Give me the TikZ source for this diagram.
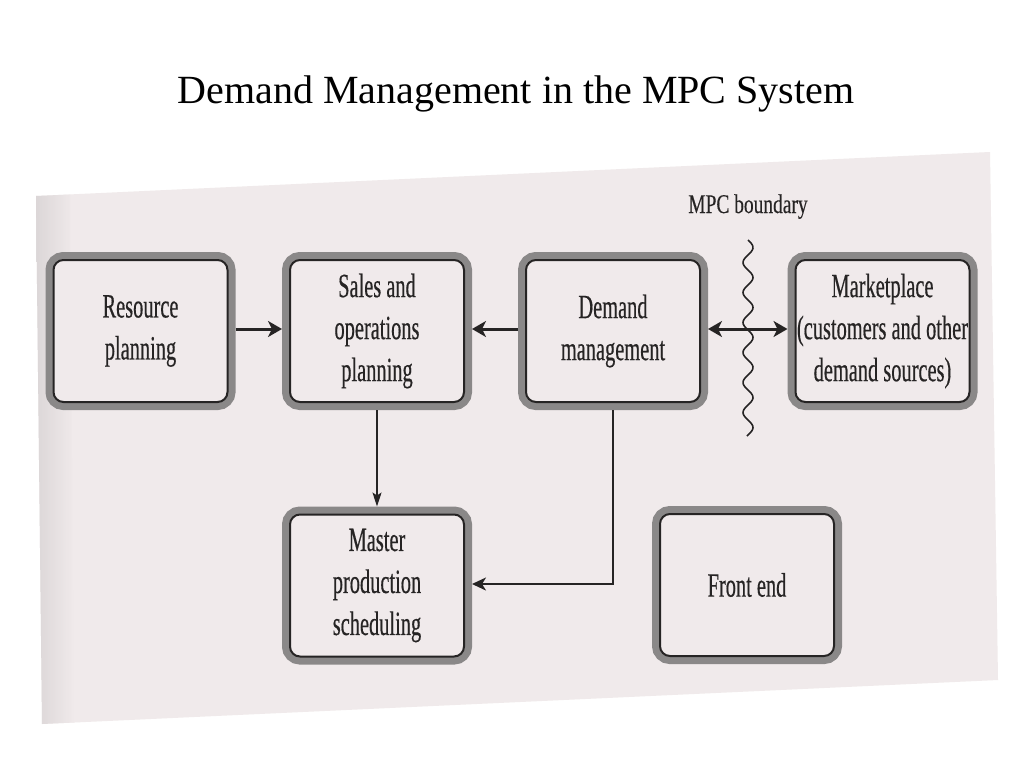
\documentclass[tikz,border=0pt]{standalone}
\usepackage{fontspec}
\setmainfont{Liberation Serif}
\newfontfamily\boxfont[FakeStretch=0.6,FakeBold=0.4]{Liberation Serif}
\newfontfamily\lblfont[FakeStretch=0.72,FakeBold=0.3]{Liberation Serif}
\usetikzlibrary{arrows.meta}
\definecolor{paper}{RGB}{240,234,235}
\definecolor{paperedge}{RGB}{215,210,211}
\definecolor{band}{RGB}{138,136,136}
\definecolor{ink}{RGB}{38,36,36}
\tikzset{
  procbox/.style={rounded corners=10pt, draw=ink, line width=2pt, fill=paper,
    minimum width=174pt, minimum height=142pt, outer sep=8pt, inner sep=0pt,
    preaction={draw=band, line width=16pt},
    align=center, text=ink, font=\boxfont\fontsize{34}{42}\selectfont},
  thickarrow/.style={draw=ink, line width=3pt, -{Stealth[length=14pt,width=16pt,inset=4pt]}},
  thickdouble/.style={draw=ink, line width=3pt, {Stealth[length=14pt,width=16pt,inset=4pt]}-{Stealth[length=14pt,width=16pt,inset=4pt]}},
  thinarrow/.style={draw=ink, line width=1.6pt, -{Stealth[length=14pt,width=9pt,inset=3pt]}},
  medarrow/.style={draw=ink, line width=2.2pt, -{Stealth[length=14pt,width=13pt,inset=4pt]}},
  wavy/.style={draw=ink, line width=1.6pt},
}
\begin{document}
\begin{tikzpicture}[x=1pt,y=-1pt]
\useasboundingbox[fill=white] (0,0) rectangle (1024,768);
% scanned page
\fill[paper] (36,196) -- (990,152) -- (998,680) -- (42,724) -- cycle;
\shade[left color=paperedge, right color=paper, opacity=0.8] (36,196) -- (70,194.5) -- (74,722.5) -- (42,724) -- cycle;
% title
\node[font=\fontsize{40}{48}\selectfont, anchor=base] (title) at (516,103) {Demand Management in the MPC System};
% boxes
\node[procbox] (res) at (140.5,331) {Resource\\planning};
\node[procbox] (sop) at (377,331) {Sales and\\operations\\planning};
\node[procbox] (dem) at (613,331) {Demand\\management};
\node[procbox] (mkt) at (882.5,331) {Marketplace\\(customers and other\\demand sources)};
\node[procbox] (mps) at (377,585.5) {Master\\production\\scheduling};
\node[procbox] (fe) at (747,585) {Front end};
% boundary
\node[font=\lblfont\fontsize{27}{32}\selectfont, text=ink, anchor=base] (mpc) at (748,213) {MPC boundary};
\draw[wavy] plot[domain=0:196, samples=120, smooth] ({748+5*sin(\x*12)},{240+\x});
% connectors
\draw[thickarrow] ([yshift=2pt]res.east) -- ([yshift=2pt]sop.west);
\draw[thickarrow] ([yshift=2pt]dem.west) -- ([yshift=2pt]sop.east);
\draw[thickdouble] ([yshift=2pt]dem.east) -- ([yshift=2pt]mkt.west);
\draw[thinarrow] (sop.south) -- (mps.north);
\draw[medarrow] (dem.south) |- ([yshift=1.5pt]mps.east);
\end{tikzpicture}
\end{document}
